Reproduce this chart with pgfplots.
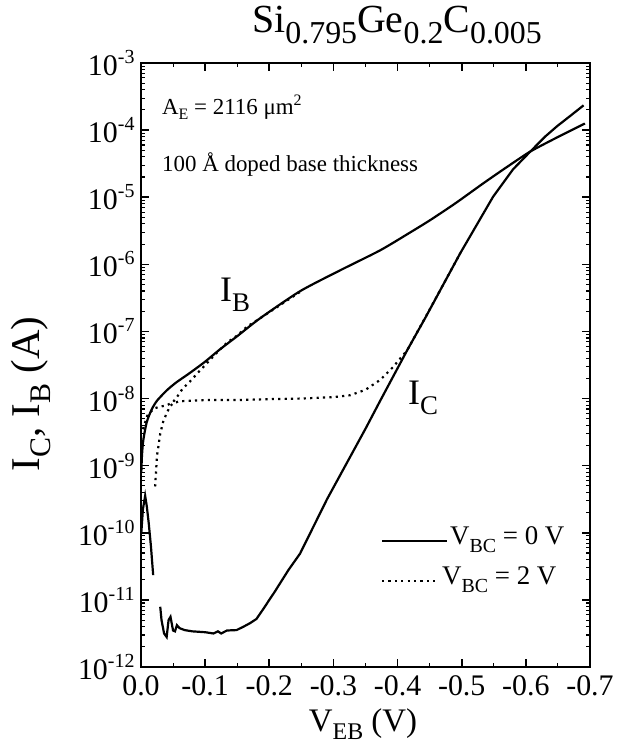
\documentclass[border=0pt]{standalone}
\usepackage{fontspec}
\setmainfont{Liberation Serif}
\usepackage{pgfplots}
\pgfplotsset{compat=1.18}
\newcommand{\fs}[1]{\fontsize{#1}{#1}\selectfont}
\newcommand{\lo}[3]{\raisebox{-#1bp}{\fs{#2}#3}}
\newcommand{\hi}[3]{\raisebox{#1bp}{\fs{#2}#3}}
\begin{document}
\begin{tikzpicture}[x=1bp,y=1bp]
\useasboundingbox (-141,-85) rectangle (480,667);
\begin{axis}[
  at={(0,0)}, anchor=south west,
  scale only axis, width=449bp, height=604bp,
  xmin=-0.7, xmax=0, x dir=reverse,
  ymode=log, ymin=1e-12, ymax=1e-3,
  xtick={0,-0.1,-0.2,-0.3,-0.4,-0.5,-0.6,-0.7},
  xticklabels={0.0,-0.1,-0.2,-0.3,-0.4,-0.5,-0.6,-0.7},
  minor xtick={-0.05,-0.15,-0.25,-0.35,-0.45,-0.55,-0.65},
  ytick={1e-12,1e-11,1e-10,1e-9,1e-8,1e-7,1e-6,1e-5,1e-4,1e-3},
  yticklabels={10\hi{12}{20}{-12},10\hi{12}{20}{-11},10\hi{12}{20}{-10},10\hi{12}{20}{-9},10\hi{12}{20}{-8},10\hi{12}{20}{-7},10\hi{12}{20}{-6},10\hi{12}{20}{-5},10\hi{12}{20}{-4},10\hi{12}{20}{-3}},
  tick label style={font=\fs{30}},
  xticklabel style={yshift=-5bp},
  yticklabel style={xshift=-3bp},
  axis line style={line width=1.9bp},
  major tick style={line width=1.6bp, black},
  minor tick style={line width=1.1bp, black},
  major tick length=8bp, minor tick length=4bp,
  tick align=inside,
  clip=true,
]
% I_B, V_BC = 0 V
\addplot[black, line width=2.2bp, smooth, tension=0.4] coordinates {
(-0.0005,7.9e-10) (-0.0015,1.41e-9) (-0.0036,2.4e-9) (-0.009,4.47e-9) (-0.0167,6.9e-9)
(-0.025,9.3e-9) (-0.040,1.32e-8) (-0.055,1.74e-8) (-0.076,2.4e-8) (-0.100,3.55e-8)
(-0.123,5.4e-8) (-0.150,8.5e-8) (-0.186,1.58e-7) (-0.248,3.98e-7) (-0.310,8.1e-7)
(-0.373,1.62e-6) (-0.420,3.0e-6) (-0.451,4.57e-6) (-0.490,8.1e-6) (-0.534,1.62e-5)
(-0.570,2.8e-5) (-0.607,4.8e-5) (-0.650,7.9e-5) (-0.688,1.2e-4) (-0.692,1.26e-4)
};
% I_C, V_BC = 0 V (low-bias spike)
\addplot[black, line width=2.2bp] coordinates {
(-0.0005,1.0e-10) (-0.003,2.24e-10) (-0.0065,3.55e-10) (-0.009,2.5e-10)
(-0.012,1.41e-10) (-0.0155,6.3e-11) (-0.019,2.34e-11)
};
% I_C, V_BC = 0 V
\addplot[black, line width=2.2bp] coordinates {
(-0.030,7.9e-12) (-0.032,5.0e-12) (-0.036,3.16e-12) (-0.040,2.8e-12) (-0.043,5.0e-12)
(-0.046,5.6e-12) (-0.050,3.5e-12) (-0.053,3.4e-12) (-0.056,4.2e-12) (-0.060,3.8e-12)
(-0.068,3.55e-12) (-0.080,3.4e-12) (-0.100,3.3e-12) (-0.113,3.16e-12) (-0.120,3.4e-12)
(-0.125,3.16e-12) (-0.134,3.5e-12) (-0.149,3.55e-12) (-0.160,4.0e-12) (-0.170,4.5e-12)
(-0.180,5.2e-12) (-0.186,6.3e-12) (-0.193,7.9e-12) (-0.200,1.0e-11) (-0.208,1.3e-11)
(-0.217,1.78e-11) (-0.230,2.8e-11) (-0.248,4.9e-11) (-0.270,1.3e-10)
(-0.290,3.16e-10) (-0.350,3.55e-9) (-0.373,9.3e-9) (-0.415,5.25e-8) (-0.443,1.58e-7)
(-0.498,1.48e-6) (-0.549,1.02e-5) (-0.580,2.6e-5) (-0.607,4.8e-5) (-0.630,8.0e-5)
(-0.649,1.15e-4) (-0.670,1.65e-4) (-0.690,2.34e-4)
};
% I_C, V_BC = 2 V
\addplot[black, line width=2.2bp, dash pattern=on 2.2bp off 4.2bp] coordinates {
(-0.022,4.9e-10) (-0.025,1.41e-9) (-0.030,3.0e-9) (-0.035,4.7e-9) (-0.040,6.0e-9)
(-0.045,7.6e-9) (-0.050,8.5e-9) (-0.060,9.1e-9) (-0.080,9.3e-9) (-0.100,9.5e-9)
(-0.150,9.5e-9) (-0.200,9.8e-9) (-0.250,1.0e-8) (-0.300,1.05e-8) (-0.326,1.12e-8)
(-0.350,1.35e-8) (-0.373,1.9e-8) (-0.393,2.95e-8) (-0.415,5.25e-8) (-0.443,1.6e-7)
(-0.498,1.48e-6)
};
% I_B, V_BC = 2 V
\addplot[black, line width=2.2bp, dash pattern=on 2.2bp off 4.2bp] coordinates {
(-0.003,3.5e-9) (-0.010,5.6e-9) (-0.020,7.1e-9) (-0.030,7.6e-9) (-0.040,7.9e-9)
(-0.050,8.9e-9) (-0.056,1.05e-8) (-0.065,1.41e-8) (-0.076,1.78e-8) (-0.090,2.5e-8)
(-0.102,3.3e-8) (-0.118,4.8e-8) (-0.134,6.8e-8) (-0.150,8.7e-8) (-0.165,1.17e-7)
(-0.186,1.58e-7) (-0.250,4.0e-7)
};
\end{axis}
% title
\node[anchor=base] at (256,634) {\fs{40}Si\lo{11}{32}{0.795}Ge\lo{11}{32}{0.2}C\lo{11}{32}{0.005}};
% annotations
\node[anchor=base west, inner sep=0] at (21,552) {\fs{23}A\lo{5}{16}{E} = 2116 μm\hi{9}{16}{2}};
\node[anchor=base west, inner sep=0] at (21,495) {\fs{23}100 Å doped base thickness};
\node[anchor=base west, inner sep=0] at (79,365) {\fs{36}I\lo{10}{27}{B}};
\node[anchor=base west, inner sep=0] at (267,262) {\fs{36}I\lo{10}{27}{C}};
% legend
\draw[line width=2.2bp] (241,126.3) -- (306,126.3);
\node[anchor=base west, inner sep=0] at (309,122) {\fs{27}V\lo{8}{20}{BC} = 0 V};
\draw[line width=2.2bp, dash pattern=on 2.2bp off 4.2bp] (241,86.3) -- (297,86.3);
\node[anchor=base west, inner sep=0] at (301,82) {\fs{27}V\lo{8}{20}{BC} = 2 V};
% axis labels
\node[anchor=base] at (222,-64) {\fs{33}V\lo{8}{24}{EB} (V)};
\node[rotate=90, anchor=center] at (-110,273) {\fs{41}I\lo{11}{30}{C}, I\lo{11}{30}{B} (A)};
\end{tikzpicture}
\end{document}
